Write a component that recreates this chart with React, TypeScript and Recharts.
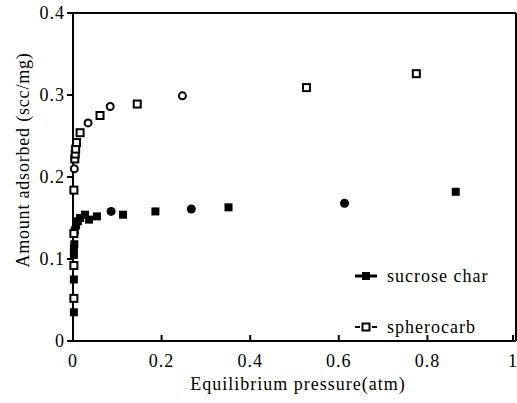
import { ScatterChart, Scatter, XAxis, YAxis, ReferenceLine } from 'recharts'

// equilibrium pressure (atm) / amount adsorbed (scc/mg)
const sucroseP = [0.002, 0.002, 0.002, 0.002, 0.003, 0.004, 0.007, 0.011, 0.016, 0.027, 0.036, 0.054, 0.086, 0.113, 0.186, 0.267, 0.351, 0.613, 0.864]
const sucroseA = [0.035, 0.075, 0.105, 0.113, 0.118, 0.135, 0.141, 0.146, 0.150, 0.154, 0.148, 0.152, 0.158, 0.154, 0.158, 0.161, 0.163, 0.168, 0.182]

const spheroP = [0.002, 0.002, 0.002, 0.002, 0.003, 0.004, 0.005, 0.006, 0.008, 0.016, 0.034, 0.061, 0.084, 0.145, 0.247, 0.527, 0.775]
const spheroA = [0.052, 0.092, 0.131, 0.184, 0.210, 0.222, 0.228, 0.234, 0.242, 0.254, 0.266, 0.275, 0.286, 0.289, 0.299, 0.309, 0.326]

const xTicks = [0, 0.2, 0.4, 0.6, 0.8, 1]
const yTicks = [0, 0.1, 0.2, 0.3, 0.4]

const sucrose = sucroseP.map((p, i) => ({ p, a: sucroseA[i] }))
const sphero = spheroP.map((p, i) => ({ p, a: spheroA[i] }))

// markers that look round in the original print
const sucroseRound = new Set([12, 15, 17])
const spheroRound = new Set([4, 10, 12, 14])

const font = '"Liberation Serif", serif'
const fs = 18
const ls = 1

const SucroseDot = (props: any) => {
  const { cx, cy, index } = props
  if (sucroseRound.has(index)) return <circle cx={cx} cy={cy} r={4.5} fill="#000" />
  return <rect x={cx - 4} y={cy - 4} width={8} height={8} fill="#000" />
}

const SpheroDot = (props: any) => {
  const { cx, cy, index } = props
  if (spheroRound.has(index))
    return <circle cx={cx} cy={cy} r={3.5} fill="#fff" stroke="#000" strokeWidth={2} />
  return <rect x={cx - 3.5} y={cy - 3.5} width={7} height={7} fill="#fff" stroke="#000" strokeWidth={2} />
}

const XTick = (props: any) => {
  const { x, y, payload } = props
  return (
    <g>
      <line x1={x} y1={y} x2={x} y2={y - 6} stroke="#000" strokeWidth={2} />
      <text x={x} y={y + 26} textAnchor="middle" fontFamily={font} fontSize={fs} letterSpacing={ls} fill="#000">
        {payload.value === 0 || payload.value === 1 ? String(payload.value) : payload.value.toFixed(1)}
      </text>
    </g>
  )
}

const LegendBox = () => (
  <svg width={160} height={80} style={{ position: 'absolute', left: 350, top: 262 }}>
    <line x1={5} y1={14} x2={27} y2={14} stroke="#000" strokeWidth={3} />
    <rect x={12} y={10} width={8} height={8} fill="#000" />
    <text x={37} y={20} fontFamily={font} fontSize={fs} letterSpacing={ls} fill="#000">sucrose char</text>
    <line x1={5} y1={65} x2={10} y2={65} stroke="#000" strokeWidth={2} />
    <line x1={22} y1={65} x2={27} y2={65} stroke="#000" strokeWidth={2} />
    <rect x={12.5} y={61.5} width={7} height={7} fill="#fff" stroke="#000" strokeWidth={2} />
    <text x={37} y={71} fontFamily={font} fontSize={fs} letterSpacing={ls} fill="#000">spherocarb</text>
  </svg>
)

export default function App() {
  return (
    <div style={{ position: 'absolute', left: 0, top: 0, width: 517, height: 403, background: '#fff' }}>
      <ScatterChart width={517} height={403} margin={{ top: 13, right: 1, left: 0, bottom: 0 }}>
        <XAxis
          type="number"
          dataKey="p"
          domain={[0, 1]}
          ticks={xTicks}
          tick={<XTick />}
          tickLine={false}
          tickSize={0}
          tickMargin={0}
          height={62}
          axisLine={{ stroke: '#000', strokeWidth: 2 }}
          label={{
            content: () => (
              <text x={298} y={390} textAnchor="middle" fontFamily={font} fontSize={fs} letterSpacing={ls} fill="#000">
                Equilibrium pressure(atm)
              </text>
            ),
          }}
        />
        <YAxis
          type="number"
          dataKey="a"
          domain={[0, 0.4]}
          ticks={yTicks}
          width={73}
          tickSize={6}
          tickMargin={2}
          tickFormatter={(v: number) => (v === 0 ? '0' : v.toFixed(1))}
          tick={{ fill: '#000', fontFamily: font, fontSize: fs, letterSpacing: ls }}
          tickLine={{ stroke: '#000', strokeWidth: 2 }}
          axisLine={{ stroke: '#000', strokeWidth: 2 }}
          label={{
            content: () => (
              <text
                x={23}
                y={160}
                transform="rotate(-90 23 160)"
                textAnchor="middle"
                dominantBaseline="central"
                fontFamily={font}
                fontSize={fs}
                letterSpacing={0.8}
                fill="#000"
              >
                Amount adsorbed (scc/mg)
              </text>
            ),
          }}
        />
        <ReferenceLine y={0.4} stroke="#000" strokeWidth={2} />
        <ReferenceLine x={1} stroke="#000" strokeWidth={2} />
        <Scatter name="sucrose char" data={sucrose} shape={<SucroseDot />} isAnimationActive={false} />
        <Scatter name="spherocarb" data={sphero} shape={<SpheroDot />} isAnimationActive={false} />
      </ScatterChart>
      <LegendBox />
    </div>
  )
}
